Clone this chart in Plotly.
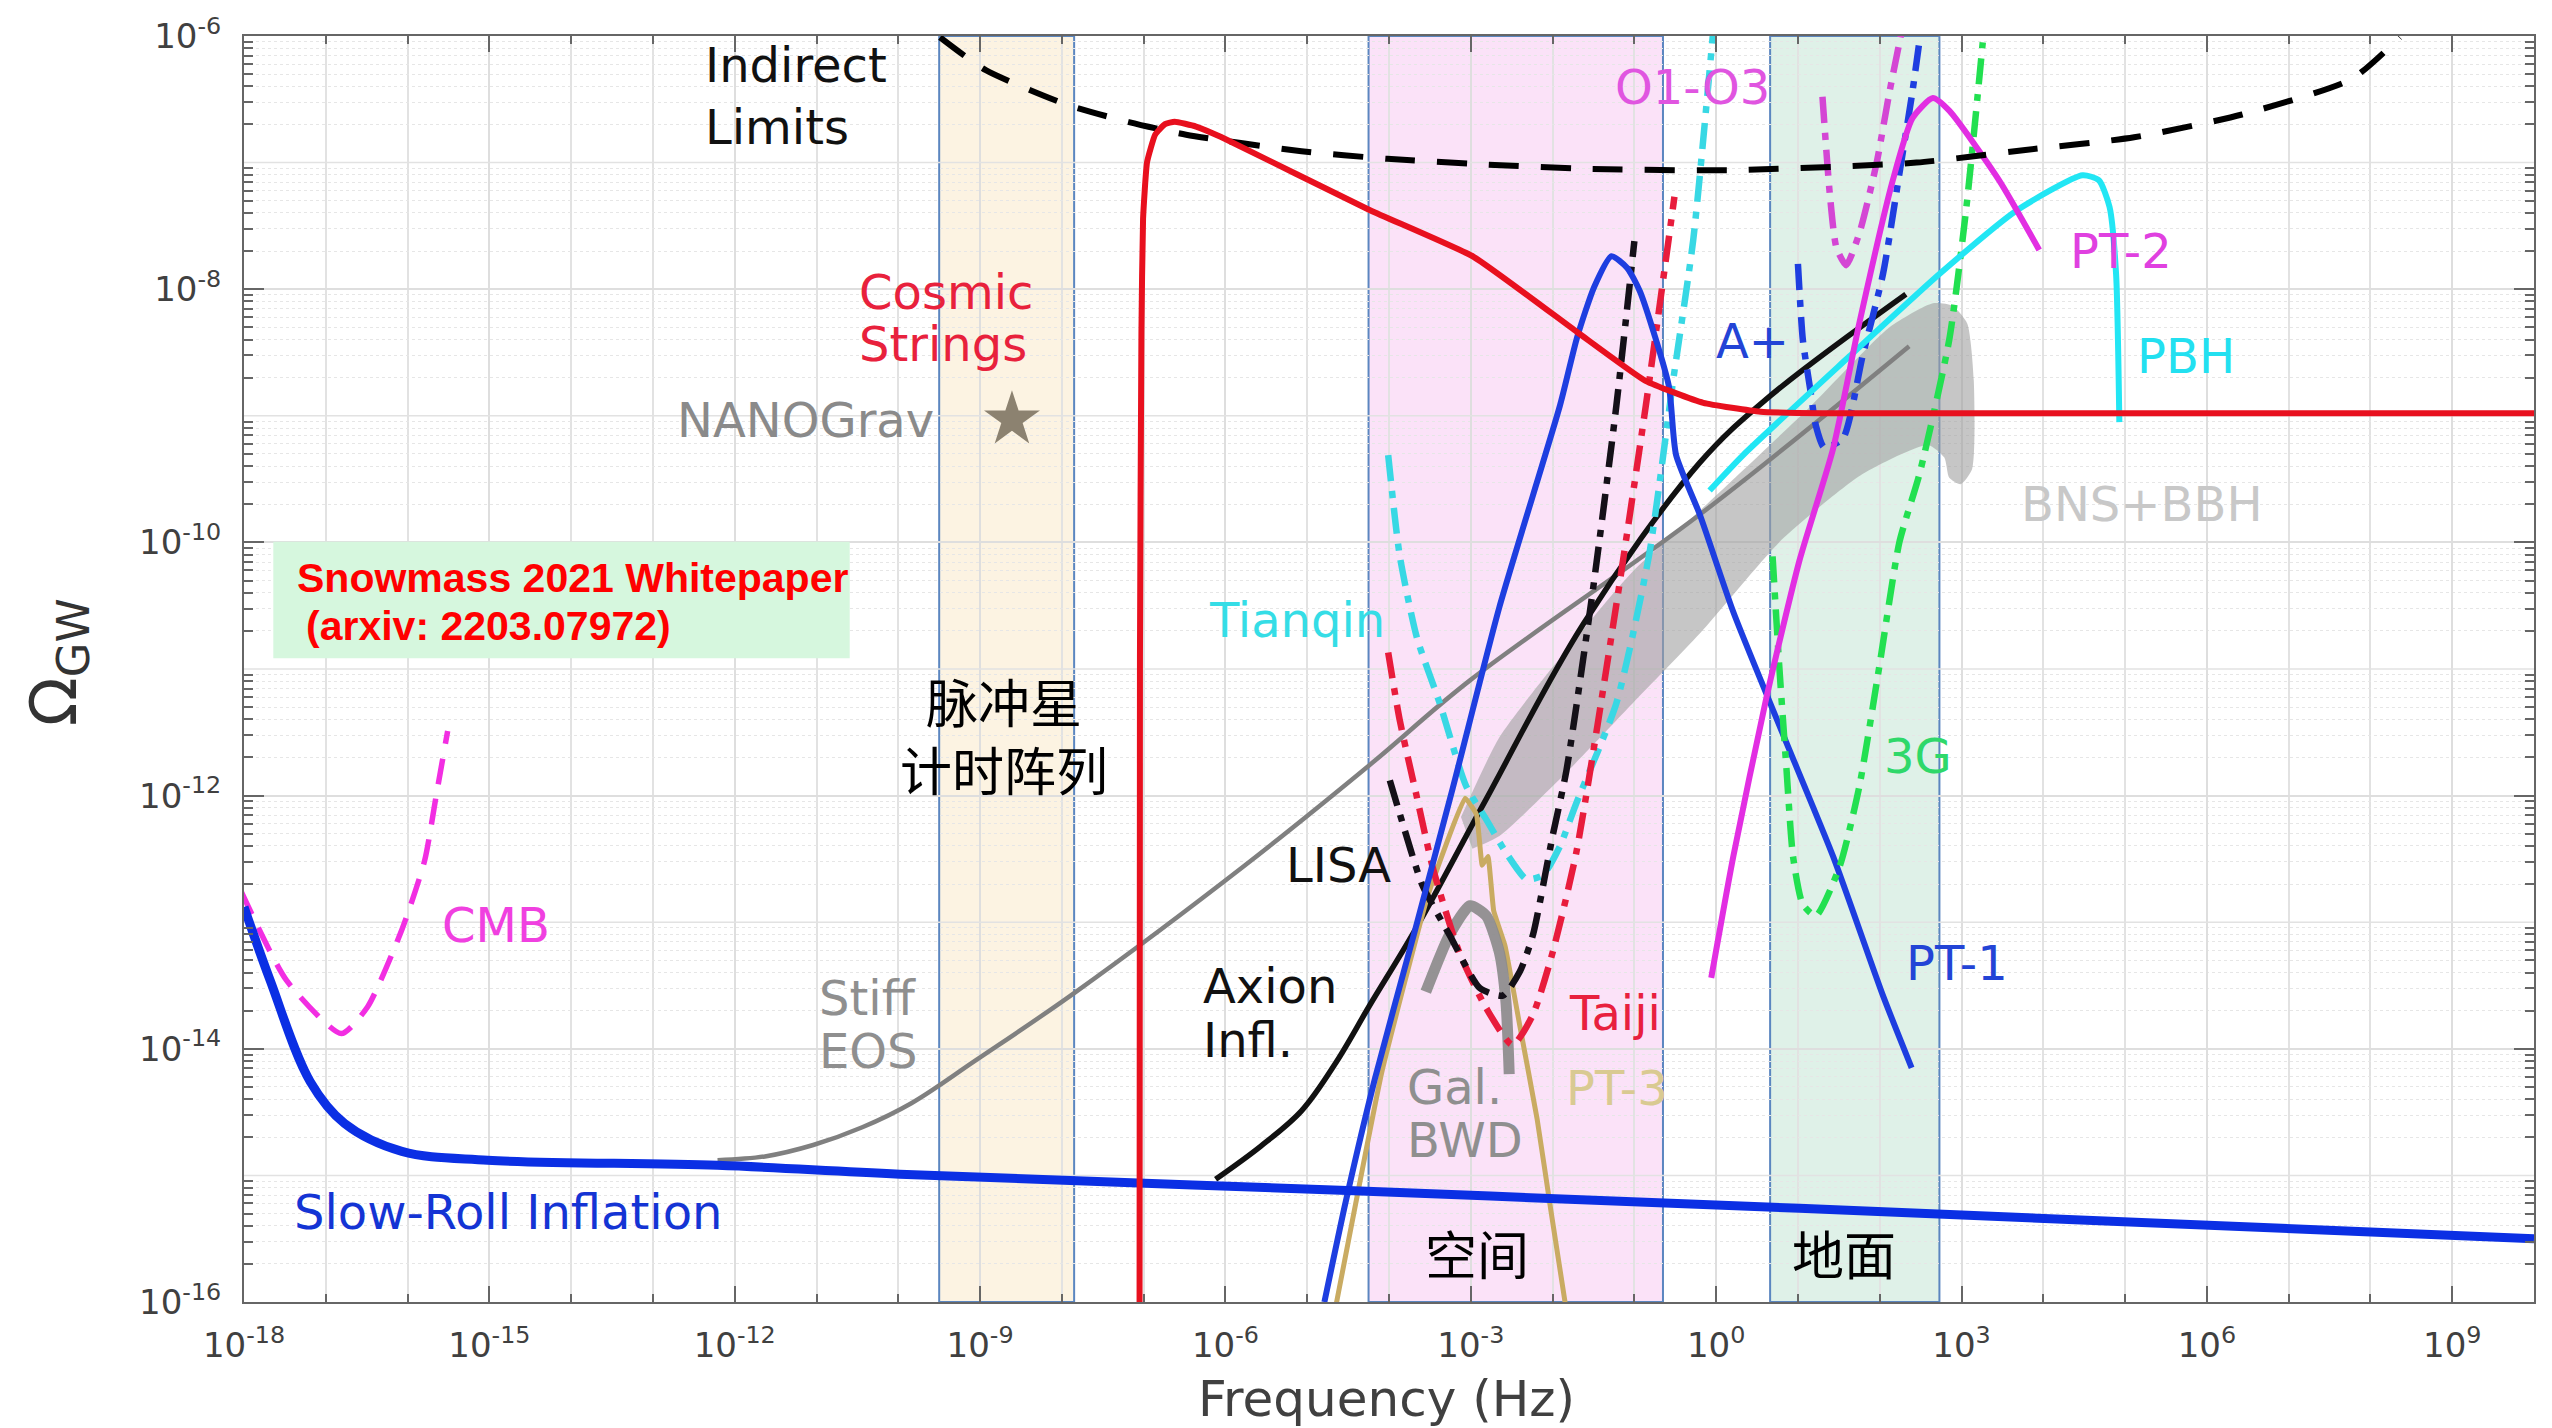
import plotly.graph_objects as go

# ---------------------------------------------------------------
# Curves: log10(frequency / Hz) and log10(Omega_GW)
# ---------------------------------------------------------------
slow_roll_logf = [-18.0, -17.68, -17.19, -16.77, -16.07, -15.02, -12.21, -9.98, -4.51, 1.02, 10.0]
slow_roll_logomega = [-12.88, -13.46, -14.26, -14.59, -14.81, -14.88, -14.92, -14.99, -15.12, -15.26, -15.50]

cmb_logf = [-18.04, -17.48, -16.81, -16.49, -16.07, -15.79, -15.65, -15.51]
cmb_logomega = [-12.75, -13.46, -13.88, -13.67, -13.06, -12.51, -12.0, -11.49]

indirect_logf = [-9.49, -8.93, -7.95, -7.18, -6.48, -5.07, -4.02, -2.97, -1.57, 0.19, 2.45, 3.78, 5.11, 6.43, 7.77, 8.36]
indirect_logomega = [-6.01, -6.27, -6.54, -6.68, -6.78, -6.91, -6.97, -7.01, -7.05, -7.06, -7.0, -6.9, -6.8, -6.62, -6.34, -6.01]

cosmic_logf = [-7.05, -7.045, -7.027, -7.007, -6.958, -6.859, -6.739, -6.62, -6.359, -6.052, -4.232, -2.966,
               -1.705, -0.863, -0.157, 0.543, 1.3, 10.0]
cosmic_logomega = [-16.2, -10.89, -8.336, -7.443, -6.996, -6.779, -6.696, -6.677, -6.715, -6.798, -7.376, -7.744,
                   -8.336, -8.724, -8.898, -8.968, -8.98, -8.98]

stiff_logf = [-12.21, -11.63, -11.04, -10.44, -9.84, -9.05, -7.85, -5.76, -4.24, -3.01, -0.20, 2.36]
stiff_logomega = [-14.88, -14.85, -14.76, -14.62, -14.43, -14.09, -13.56, -12.55, -11.76, -11.09, -9.78, -8.45]

axion_logf = [-6.12, -5.57, -5.07, -4.65, -4.23, -3.68, -2.83, -1.63, -0.20, 0.61, 2.32]
axion_logomega = [-15.03, -14.77, -14.49, -14.11, -13.65, -13.06, -12.05, -10.65, -9.37, -8.87, -8.04]

lisa_logf = [-3.99, -3.87, -3.59, -3.26, -2.89, -2.61, -2.40, -2.24, -2.0, -1.83, -1.51, -1.22, -1.0]
lisa_logomega = [-11.88, -12.14, -12.71, -13.10, -13.52, -13.58, -13.39, -13.10, -12.32, -11.80, -10.39, -8.92, -7.62]

taiji_logf = [-4.01, -3.87, -3.66, -3.46, -3.14, -2.81, -2.49, -2.24, -2.0, -1.71, -1.22, -0.86, -0.51]
taiji_logomega = [-10.87, -11.40, -12.01, -12.58, -13.24, -13.68, -13.97, -13.73, -13.24, -12.45, -10.49, -8.92, -7.27]

tianqin_logf = [-4.01, -3.87, -3.66, -3.38, -3.06, -2.81, -2.57, -2.32, -2.12, -1.91, -1.71, -1.22, -0.82,
                -0.53, -0.28, -0.04]
tianqin_logomega = [-9.31, -10.10, -10.75, -11.27, -11.92, -12.19, -12.45, -12.66, -12.63, -12.40, -12.06,
                    -11.27, -10.10, -8.74, -7.61, -5.99]

pt1_logf = [-4.79, -4.53, -4.17, -3.68, -3.22, -2.65, -1.91, -1.70, -1.49, -1.28, -1.09, -0.93, -0.58, -0.49,
            -0.20, 0.21, 0.82, 1.43, 2.04, 2.39]
pt1_logomega = [-16.0, -15.21, -14.23, -13.06, -11.94, -10.51, -8.92, -8.38, -7.98, -7.74, -7.83, -8.02, -8.76,
                -9.31, -9.78, -10.55, -11.52, -12.48, -13.58, -14.15]

pt2_logf = [-0.06, 0.21, 0.61, 1.02, 1.43, 1.75, 2.16, 2.40, 2.65, 2.85, 3.46, 3.95]
pt2_logomega = [-13.44, -12.48, -11.24, -10.14, -9.26, -8.27, -7.14, -6.65, -6.49, -6.59, -7.14, -7.69]

pbh_logf = [-0.08, 0.33, 1.63, 2.73, 3.67, 4.48, 4.68, 4.81, 4.89, 4.93]
pbh_logomega = [-9.59, -9.31, -8.53, -7.88, -7.38, -7.10, -7.14, -7.35, -7.88, -9.05]

o1o3_logf = [1.30, 1.39, 1.47, 1.59, 1.75, 1.96, 2.12, 2.26]
o1o3_logomega = [-6.48, -7.25, -7.67, -7.81, -7.56, -7.01, -6.44, -5.99]

aplus_logf = [1.0, 1.06, 1.15, 1.22, 1.32, 1.55, 1.79, 2.04, 2.24, 2.40, 2.49]
aplus_logomega = [-7.80, -8.40, -8.79, -9.08, -9.25, -9.18, -8.53, -7.88, -7.09, -6.44, -6.02]

g3_logf = [0.69, 0.77, 0.86, 0.94, 1.06, 1.22, 1.51, 1.75, 2.0, 2.24, 2.49, 2.85, 3.06, 3.26]
g3_logomega = [-10.11, -10.96, -11.79, -12.48, -12.86, -12.95, -12.56, -11.93, -10.96, -10.0, -9.45, -8.40,
               -7.35, -6.05]

pt3_logf = [-4.70, -4.09, -3.53, -3.07, -2.93, -2.86, -2.79, -2.72, -2.58, -2.40, -2.19, -2.02, -1.80]
pt3_logomega = [-16.2, -14.19, -12.80, -12.02, -12.15, -12.55, -12.48, -12.91, -13.19, -13.82, -14.55, -15.28,
                -16.2]

bwd_logf = [-3.55, -3.26, -3.01, -2.81, -2.65, -2.57, -2.53]
bwd_logomega = [-13.55, -13.10, -12.87, -12.95, -13.24, -13.63, -14.20]

# BNS+BBH foreground band (closed outline)
bns_logf = [-3.12, -2.65, -1.88, -1.02, -0.20, 1.13, 2.12, 2.65, 2.89, 3.07, 3.15, 3.13, 2.99, 2.85, 2.79, 2.59,
            1.79, 0.80, -0.20, -1.02, -1.88, -2.65, -2.98]
bns_logomega = [-12.17, -11.54, -10.89, -10.23, -9.75, -8.94, -8.30, -8.11, -8.13, -8.27, -8.72, -9.42, -9.54,
                -9.49, -9.33, -9.23, -9.46, -9.98, -10.72, -11.27, -11.85, -12.32, -12.42]

nanograv_logf = [-8.61]
nanograv_logomega = [-9.03]

# Observational frequency windows
band_names = ["PTA", "Space", "Ground"]
band_logf_lo = [-9.50, -4.25, 0.66]
band_logf_hi = [-7.85, -0.65, 2.73]
band_fill = ["#fcf3e2", "#fbe2f8", "#dff1e8"]

# Axis ticks
x_label_exps = [-18, -15, -12, -9, -6, -3, 0, 3, 6, 9]
y_label_exps = [-6, -8, -10, -12, -14, -16]


def lin(vals):
    return [10.0 ** v for v in vals]


fig = go.Figure()

# solid grid lines at the unlabeled y decades
for d in range(-15, -6, 2):
    fig.add_trace(go.Scatter(x=[1e-18, 1e10], y=[10.0 ** d] * 2, mode="lines",
                             line=dict(color="#e2e2e2", width=1.5), hoverinfo="skip"))

# frequency windows
for lo, hi, col in zip(band_logf_lo, band_logf_hi, band_fill):
    fig.add_shape(type="rect", xref="x", yref="paper", x0=10.0 ** lo, x1=10.0 ** hi, y0=0, y1=1,
                  fillcolor=col, line=dict(color="#5b86c0", width=2), layer="below")

# BNS+BBH band
fig.add_trace(go.Scatter(x=lin(bns_logf), y=lin(bns_logomega), mode="lines", fill="toself",
                         fillcolor="rgba(160,160,160,0.6)", line=dict(width=0, shape="spline", smoothing=0.6),
                         hoverinfo="skip"))


def curve(lx, ly, color, width, dash="solid", smooth=0.6, opacity=1.0):
    fig.add_trace(go.Scatter(x=lin(lx), y=lin(ly), mode="lines", opacity=opacity,
                             line=dict(color=color, width=width, dash=dash, shape="spline", smoothing=smooth),
                             hoverinfo="skip"))


DASHDOT = "26px,10px,7px,10px"

curve(stiff_logf, stiff_logomega, "#808080", 4.5, smooth=1.0)
curve(axion_logf, axion_logomega, "#111111", 5.5, smooth=1.0)
curve(pt3_logf, pt3_logomega, "#c9ab62", 5, smooth=0.3)
curve(bwd_logf, bwd_logomega, "#8a8a8a", 11, opacity=0.9)
curve(tianqin_logf, tianqin_logomega, "#38d8e4", 6.5, DASHDOT)
curve(taiji_logf, taiji_logomega, "#e81c3c", 6.5, DASHDOT)
curve(lisa_logf, lisa_logomega, "#141018", 6.5, DASHDOT)
curve(pt1_logf, pt1_logomega, "#1e3ee0", 6)
curve(g3_logf, g3_logomega, "#22e050", 6.5, DASHDOT)
curve(aplus_logf, aplus_logomega, "#1e3ee0", 6.5, DASHDOT)
curve(o1o3_logf, o1o3_logomega, "#d446d4", 6.5, DASHDOT)
curve(pbh_logf, pbh_logomega, "#22e6f4", 6)
curve(pt2_logf, pt2_logomega, "#e22ee2", 6)
curve(cmb_logf, cmb_logomega, "#f22ee2", 5.5, "26px,15px")
curve(slow_roll_logf, slow_roll_logomega, "#0b2fe4", 9, smooth=1.0)
curve(indirect_logf, indirect_logomega, "#000000", 6, "30px,22px")
curve(cosmic_logf, cosmic_logomega, "#e8101e", 6, smooth=0.4)

fig.add_trace(go.Scatter(x=lin(nanograv_logf), y=lin(nanograv_logomega), mode="markers",
                         marker=dict(symbol="star", size=42, color="#8c8270", line=dict(width=0)),
                         hoverinfo="skip"))

# ---------------------------------------------------------------
# Text labels (positions in log10 axis units)
# ---------------------------------------------------------------
LBL = "DejaVu Sans"
labels = [
    ("Indirect", -12.39, -6.23, "#111111", "left"),
    ("Limits", -12.39, -6.715, "#111111", "left"),
    ("Cosmic", -10.50, -8.02, "#e8213c", "left"),
    ("Strings", -10.50, -8.43, "#e8213c", "left"),
    ("NANOGrav", -11.14, -9.03, "#8a8a8a", "center"),
    ("Tianqin", -5.12, -10.61, "#35dde6", "center"),
    ("LISA", -4.62, -12.55, "#111111", "center"),
    ("Axion", -6.30, -13.50, "#111111", "left"),
    ("Infl.", -6.30, -13.93, "#111111", "left"),
    ("Gal.", -3.81, -14.30, "#8f8f8f", "left"),
    ("BWD", -3.81, -14.72, "#8f8f8f", "left"),
    ("PT-3", -1.21, -14.31, "#d9ca92", "center"),
    ("Taiji", -1.24, -13.72, "#e8203e", "center"),
    ("O1-O3", -0.29, -6.40, "#e055e0", "center"),
    ("A+", 0.45, -8.41, "#2344d6", "center"),
    ("PT-2", 4.95, -7.70, "#e040e0", "center"),
    ("PBH", 5.75, -8.53, "#22e0f0", "center"),
    ("BNS+BBH", 5.20, -9.70, "#c8c8c8", "center"),
    ("3G", 2.47, -11.69, "#2fd86a", "center"),
    ("PT-1", 2.95, -13.32, "#2344d6", "center"),
    ("CMB", -14.92, -13.02, "#f040e0", "center"),
    ("Stiff", -11.0, -13.60, "#8f8f8f", "left"),
    ("EOS", -11.0, -14.02, "#8f8f8f", "left"),
    ("Slow-Roll Inflation", -14.77, -15.29, "#1434d4", "center"),
]
annotations = []
for txt, lx, ly, col, anc in labels:
    annotations.append(dict(text=txt, x=lx, y=ly, xref="x", yref="y", xanchor=anc, yanchor="middle",
                            showarrow=False, font=dict(family=LBL, size=48, color=col)))

CJK = "Noto Sans CJK SC"
for txt, lx, ly in [("脉冲星<br>计时阵列", -8.71, -11.52),
                    ("空间", -2.92, -15.61), ("地面", 1.56, -15.61)]:
    annotations.append(dict(text=txt, x=lx, y=ly, xref="x", yref="y", xanchor="center", yanchor="middle",
                            showarrow=False, font=dict(family=CJK, size=52, color="#000000")))

# Whitepaper reference box
fig.add_shape(type="rect", xref="paper", yref="paper", x0=0.0128, x1=0.2645, y0=0.5084, y1=0.6005,
              fillcolor="#d6f7de", line=dict(width=0), layer="above")
annotations.append(dict(text="Snowmass 2021 Whitepaper", x=0.0221, y=0.5722, xref="paper", yref="paper",
                        xanchor="left", yanchor="middle", showarrow=False,
                        font=dict(family="Liberation Sans", size=41, color="#ff0000", weight="bold")))
annotations.append(dict(text="(arxiv: 2203.07972)", x=0.0262, y=0.5340, xref="paper", yref="paper",
                        xanchor="left", yanchor="middle", showarrow=False,
                        font=dict(family="Liberation Sans", size=41, color="#ff0000", weight="bold")))

# Axis titles
annotations.append(dict(text="Frequency (Hz)", x=0.499, y=-0.077, xref="paper", yref="paper",
                        xanchor="center", yanchor="middle", showarrow=False,
                        font=dict(family=LBL, size=50, color="#404040")))
annotations.append(dict(text="Ω<sub>GW</sub>", x=-0.081, y=0.505, xref="paper", yref="paper",
                        xanchor="center", yanchor="middle", textangle=-90, showarrow=False,
                        font=dict(family=LBL, size=64, color="#333333")))

# ---------------------------------------------------------------
# Axes
# ---------------------------------------------------------------
x_minor = [10.0 ** d for d in range(-17, 11) if d not in x_label_exps]
y_minor = [k * 10.0 ** d for d in range(-16, -6) for k in range(2, 10)]
axis_common = dict(type="log", showline=True, linecolor="#666666", linewidth=2, mirror="allticks",
                   ticks="inside", tickcolor="#666666", tickwidth=2, showgrid=True,
                   gridcolor="#dedede", gridwidth=1.5, zeroline=False,
                   tickfont=dict(family=LBL, size=34, color="#404040"))

fig.update_xaxes(**axis_common, range=[-18, 10],
                 tickvals=[10.0 ** e for e in x_label_exps],
                 ticktext=["10<sup>%d</sup>" % e for e in x_label_exps],
                 ticklen=16, ticklabelstandoff=12,
                 minor=dict(tickvals=x_minor, ticks="inside", ticklen=8, tickcolor="#666666",
                            showgrid=True, gridcolor="#e2e2e2", gridwidth=1.5))
fig.update_yaxes(**axis_common, range=[-16, -6],
                 tickvals=[10.0 ** e for e in y_label_exps],
                 ticktext=["10<sup>%d</sup>" % e for e in y_label_exps],
                 ticklen=20, ticklabelstandoff=14,
                 minor=dict(tickvals=y_minor, ticks="inside", ticklen=9, tickcolor="#666666",
                            showgrid=True, gridcolor="#e6e6e6", gridwidth=1, griddash="dot"))

fig.update_layout(width=2552, height=1428, autosize=False, showlegend=False,
                  margin=dict(l=244, r=18, t=28, b=126),
                  plot_bgcolor="#ffffff", paper_bgcolor="#ffffff",
                  annotations=annotations)

fig.write_html("out.html")
